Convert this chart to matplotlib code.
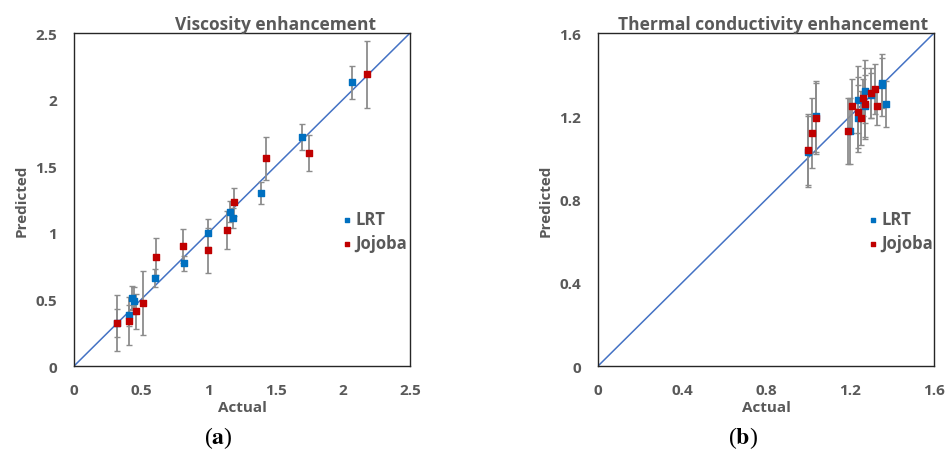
#!/usr/bin/env python3

import numpy as np
import matplotlib
matplotlib.use('Agg')
import matplotlib.pyplot as plt

# Viscosity enhancement data (actual, predicted, error)
visc_lrt_x = [2.07, 1.70, 1.39, 1.16, 1.18, 1.00, 0.82, 0.60, 0.43, 0.45, 0.41, 0.32]
visc_lrt_y = [2.13, 1.72, 1.30, 1.16, 1.11, 1.00, 0.77, 0.66, 0.51, 0.49, 0.38, 0.32]
visc_lrt_err = [0.125, 0.10, 0.085, 0.08, 0.075, 0.105, 0.055, 0.07, 0.09, 0.10, 0.08, 0.105]

visc_joj_x = [2.18, 1.75, 1.43, 1.19, 1.14, 1.00, 0.81, 0.61, 0.51, 0.46, 0.41, 0.32]
visc_joj_y = [2.19, 1.60, 1.56, 1.23, 1.02, 0.87, 0.90, 0.82, 0.47, 0.41, 0.34, 0.32]
visc_joj_err = [0.25, 0.135, 0.16, 0.105, 0.145, 0.17, 0.13, 0.14, 0.24, 0.13, 0.18, 0.21]

# Thermal conductivity enhancement data
tc_lrt_x = [1.00, 1.04, 1.20, 1.24, 1.24, 1.27, 1.27, 1.30, 1.35, 1.35, 1.37]
tc_lrt_y = [1.03, 1.20, 1.13, 1.28, 1.19, 1.32, 1.25, 1.30, 1.35, 1.36, 1.26]
tc_lrt_err = [0.17, 0.17, 0.16, 0.16, 0.16, 0.15, 0.15, 0.11, 0.15, 0.12, 0.11]

tc_joj_x = [1.00, 1.02, 1.04, 1.19, 1.21, 1.24, 1.25, 1.26, 1.27, 1.30, 1.32, 1.33]
tc_joj_y = [1.04, 1.12, 1.19, 1.13, 1.25, 1.22, 1.19, 1.29, 1.26, 1.31, 1.33, 1.25]
tc_joj_err = [0.17, 0.17, 0.17, 0.16, 0.13, 0.17, 0.13, 0.09, 0.17, 0.12, 0.12, 0.09]

grey = '#595959'
blue = '#0070C0'
red = '#C00000'
line_col = '#4472C4'

plt.rcParams['font.family'] = ['Open Sans', 'DejaVu Sans']
plt.rcParams['mathtext.fontset'] = 'stix'


def draw_panel(ax, lrt, joj, lim, ticks, labels, title, title_x, leg_x):
    ax.plot([0, lim], [0, lim], color=line_col, linewidth=1.1, zorder=1)
    for x, y, e in (lrt, joj):
        _, caps, bars = ax.errorbar(x, y, yerr=e, fmt='none', ecolor='#8c8c8c',
                                    elinewidth=1.3, capsize=2, capthick=1, zorder=2)
        for c in caps:
            c.set_color('#404040')
    ax.scatter(lrt[0], lrt[1], marker='s', s=20, color=blue, zorder=3, label='LRT')
    ax.scatter(joj[0], joj[1], marker='s', s=20, color=red, zorder=3, label='Jojoba')
    ax.set_xlim(0, lim)
    ax.set_ylim(0, lim)
    ax.set_xticks(ticks)
    ax.set_yticks(ticks)
    ax.set_xticklabels(labels)
    ax.set_yticklabels(labels)
    ax.tick_params(length=0, labelsize=11, labelcolor=grey)
    ax.tick_params(axis='x', pad=12.5)
    ax.tick_params(axis='y', pad=12)
    for lab in ax.get_xticklabels() + ax.get_yticklabels():
        lab.set_fontweight('bold')
    for sp in ax.spines.values():
        sp.set_color('#262626')
        sp.set_linewidth(1)
    ax.set_xlabel('Actual', fontsize=11, fontweight='bold', color=grey, labelpad=2)
    ax.set_ylabel('Predicted', fontsize=11, fontweight='bold', color=grey, labelpad=5)
    ax.set_title(title, fontsize=12.5, fontweight='bold', color=grey, pad=2, x=title_x)
    leg = ax.legend(loc='center left', bbox_to_anchor=(leg_x, 0.405), frameon=False,
                    handletextpad=0.3, handlelength=0.4, markerscale=0.8,
                    labelspacing=0.35, borderpad=0, borderaxespad=0,
                    prop={'weight': 'bold', 'size': 12})
    for t in leg.get_texts():
        t.set_color(grey)


fig = plt.figure(figsize=(9.5, 4.52), dpi=100)
ax1 = fig.add_axes([0.0779, 0.188, 0.3537, 0.7367])
ax2 = fig.add_axes([0.6295, 0.188, 0.3537, 0.7367])

v_ticks = [0, 0.5, 1, 1.5, 2, 2.5]
v_labels = ['0', '0.5', '1', '1.5', '2', '2.5']
t_ticks = [0, 0.4, 0.8, 1.2, 1.6]
t_labels = ['0', '0.4', '0.8', '1.2', '1.6']

draw_panel(ax1, (visc_lrt_x, visc_lrt_y, visc_lrt_err),
           (visc_joj_x, visc_joj_y, visc_joj_err),
           2.5, v_ticks, v_labels, 'Viscosity enhancement', 0.601, 0.802)
draw_panel(ax2, (tc_lrt_x, tc_lrt_y, tc_lrt_err),
           (tc_joj_x, tc_joj_y, tc_joj_err),
           1.6, t_ticks, t_labels, 'Thermal conductivity enhancement', 0.521, 0.808)

# Panel labels
fig.text(218 / 950, 0.031, r'($\mathbf{a}$)', ha='center', va='center', fontsize=17,
         family='Liberation Serif')
fig.text(742.5 / 950, 0.031, r'($\mathbf{b}$)', ha='center', va='center', fontsize=17,
         family='Liberation Serif')

fig.savefig('out.png', dpi=100)
